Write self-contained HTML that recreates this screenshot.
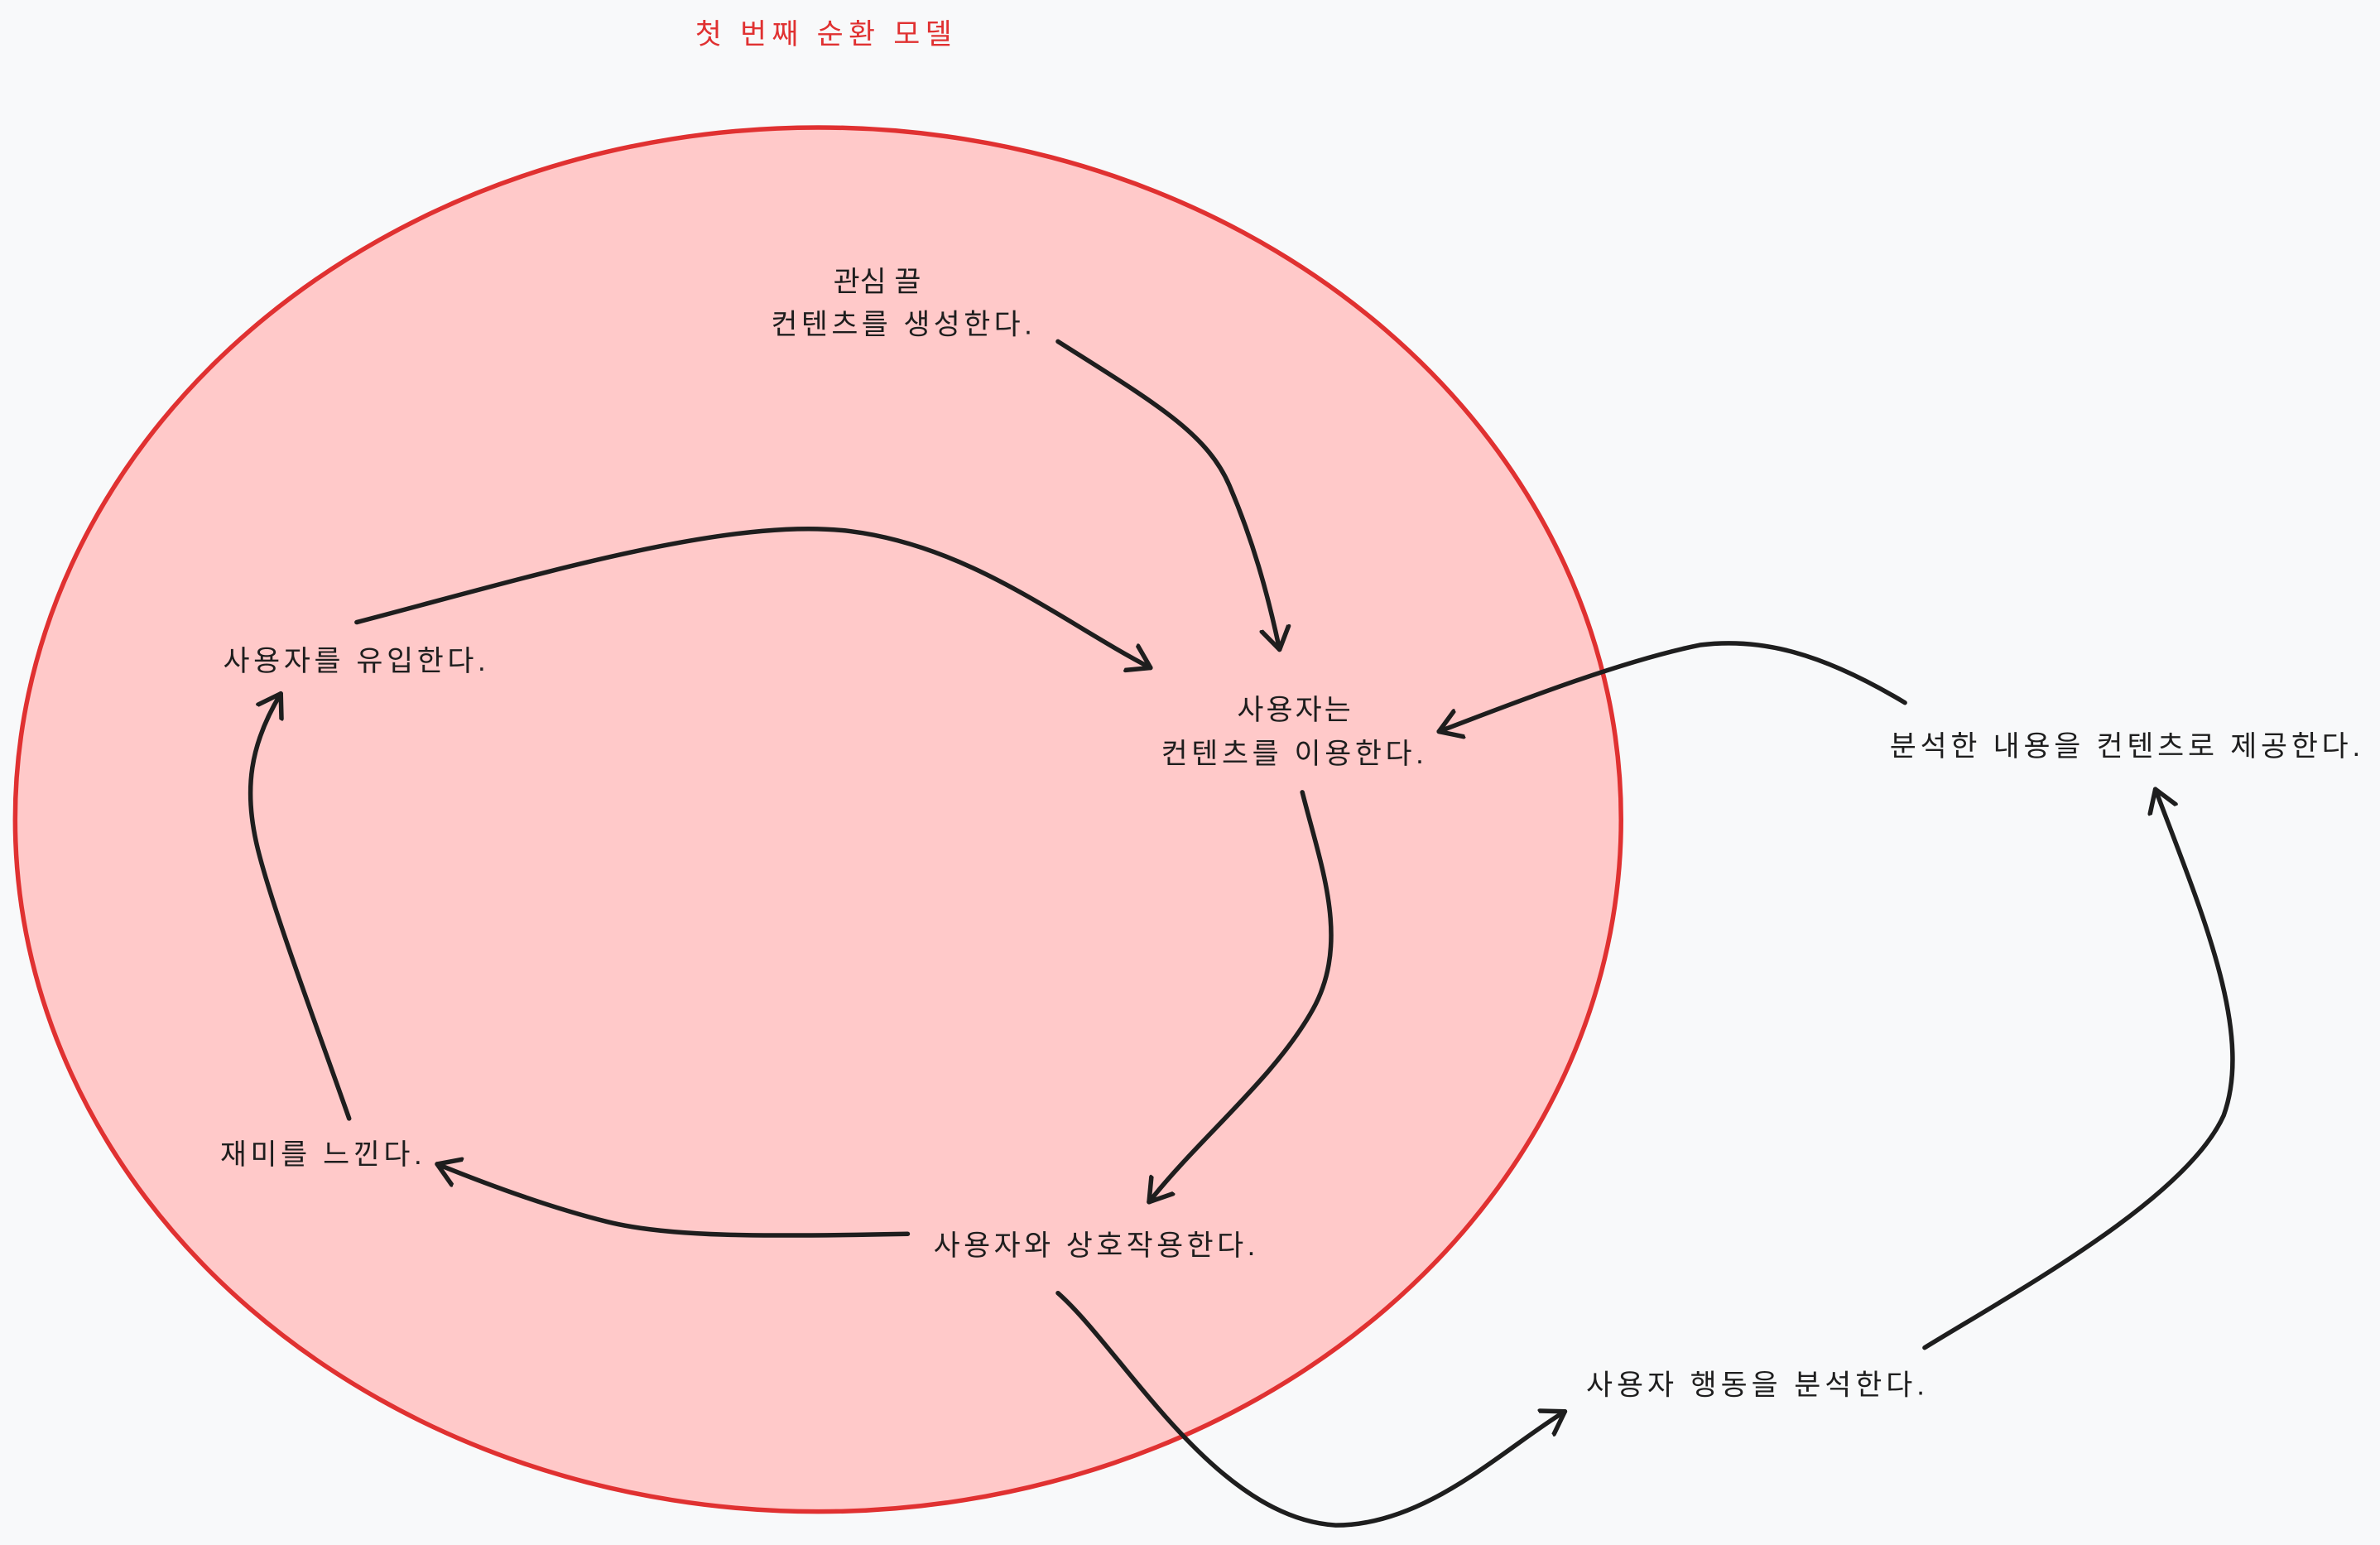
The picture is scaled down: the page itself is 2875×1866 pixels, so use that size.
<!DOCTYPE html>
<html><head><meta charset="utf-8"><style>
html,body{margin:0;padding:0;background:#f8f9fa;}
svg{display:block;}
text{font-family:"Liberation Sans","Noto Sans CJK KR","NanumGothic",sans-serif;}
</style></head><body>
<svg width="2875" height="1866" viewBox="0 0 1568 1018" preserveAspectRatio="none" xmlns="http://www.w3.org/2000/svg">
<defs>
<marker id="a" markerWidth="30" markerHeight="30" refX="15" refY="10" orient="auto" markerUnits="userSpaceOnUse" viewBox="0 0 30 20">
<path d="M1,1 L15,10 L1,19" fill="none" stroke="#1e1e1e" stroke-width="3" stroke-linecap="round" stroke-linejoin="round"/>
</marker>
</defs>
<rect width="1568" height="1018" fill="#f8f9fa"/>
<text x="458" y="29" font-size="19" fill="#e03131" textLength="169">첫 번째 순환 모델</text>
<ellipse cx="539" cy="540" rx="529" ry="456" fill="#ffc9c9" stroke="#e03131" stroke-width="3"/>
<g fill="#1e1e1e" font-size="19">
<text x="549" y="192">관심 끌</text>
<text x="508" y="220" textLength="172">컨텐츠를 생성한다.</text>
<text x="147" y="442" textLength="173">사용자를 유입한다.</text>
<text x="815" y="474" textLength="75">사용자는</text>
<text x="765" y="503" textLength="173">컨텐츠를 이용한다.</text>
<text x="1245" y="498" textLength="310">분석한 내용을 컨텐츠로 제공한다.</text>
<text x="145" y="767" textLength="133">재미를 느낀다.</text>
<text x="615" y="827" textLength="212">사용자와 상호작용한다.</text>
<text x="1045" y="919" textLength="223">사용자 행동을 분석한다.</text>
</g>
<g fill="none" stroke="#1e1e1e" stroke-width="3" stroke-linecap="round" marker-end="url(#a)">
<path d="M697,225 C760,265 795,285 810,320 C825,355 835,390 843,428"/>
<path d="M235,410 C350,380 480,340 560,350 C640,360 700,410 758,440"/>
<path d="M858,522 C870,570 890,620 865,665 C840,710 790,750 757,792"/>
<path d="M598,813 C500,815 440,815 400,805 C360,795 320,780 288,767"/>
<path d="M230,737 C210,680 180,600 170,560 C160,520 165,490 185,457"/>
<path d="M697,852 C740,890 800,1000 880,1005 C940,1005 990,955 1031,930"/>
<path d="M1268,888 C1330,850 1440,790 1465,735 C1485,680 1450,600 1420,520"/>
<path d="M1255,463 C1200,430 1160,420 1120,425 C1070,435 1000,462 948,482"/>
</g>
</svg>
</body></html>
